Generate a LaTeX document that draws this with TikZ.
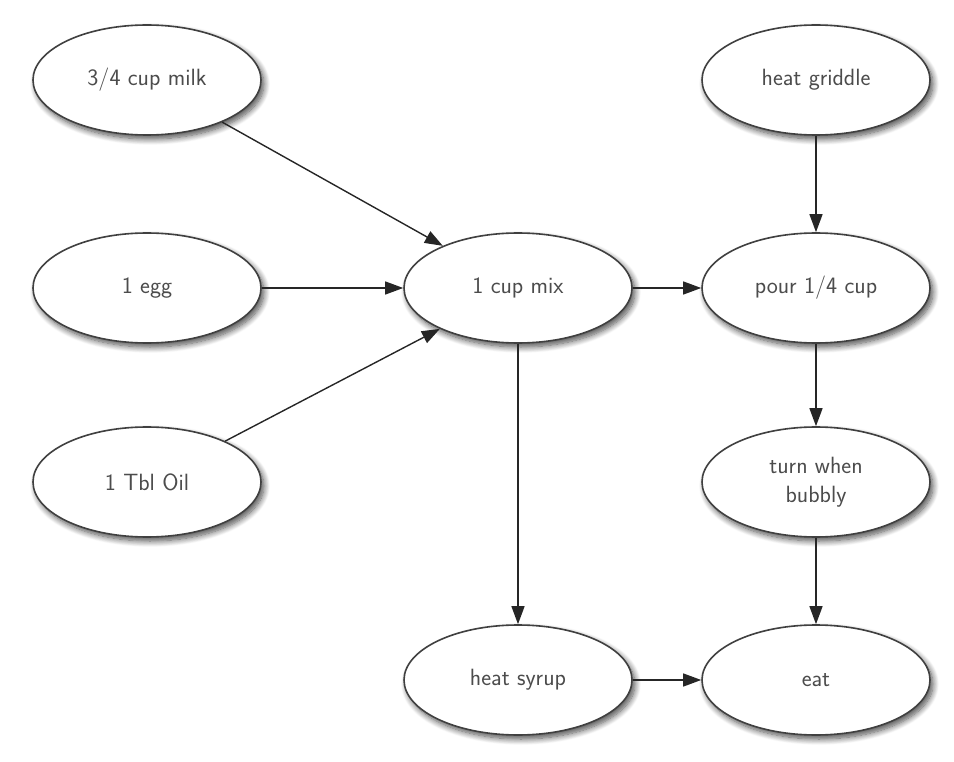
\documentclass[tikz,border=0pt]{standalone}
\usetikzlibrary{shapes.geometric,arrows.meta,shadows.blur}
\begin{document}
\begin{tikzpicture}[x=1pt,y=-1pt,
  task/.style={ellipse, draw=black!75, line width=1.6pt, fill=white,
    minimum width=228pt, minimum height=110pt, inner sep=0pt,
    text=black!70, align=center,
    font=\sffamily\fontsize{23.5}{29}\selectfont,
    blur shadow={shadow xshift=3pt, shadow yshift=-4pt, shadow blur radius=6pt, shadow opacity=70, shadow blur steps=10}},
  flow/.style={draw=black!85, line width=1.4pt, -{Triangle[length=18pt,width=13pt]}}]
\useasboundingbox (0,0) rectangle (954,762);
\node[task] (milk) at (147,80) {3/4 cup milk};
\node[task] (egg) at (147,288) {1 egg};
\node[task] (oil) at (147,482) {1 Tbl Oil};
\node[task] (mix) at (518,288) {1 cup mix};
\node[task] (syrup) at (518,680) {heat syrup};
\node[task] (griddle) at (816,80) {heat griddle};
\node[task] (pour) at (816,288) {pour 1/4 cup};
\node[task] (turn) at (816,482) {turn when\\bubbly};
\node[task] (eat) at (816,680) {eat};
\draw[flow] (milk) -- (mix);
\draw[flow] (egg) -- (mix);
\draw[flow] (oil) -- (mix);
\draw[flow] (mix) -- (pour);
\draw[flow] (mix) -- (syrup);
\draw[flow] (griddle) -- (pour);
\draw[flow] (pour) -- (turn);
\draw[flow] (turn) -- (eat);
\draw[flow] (syrup) -- (eat);
\end{tikzpicture}
\end{document}
